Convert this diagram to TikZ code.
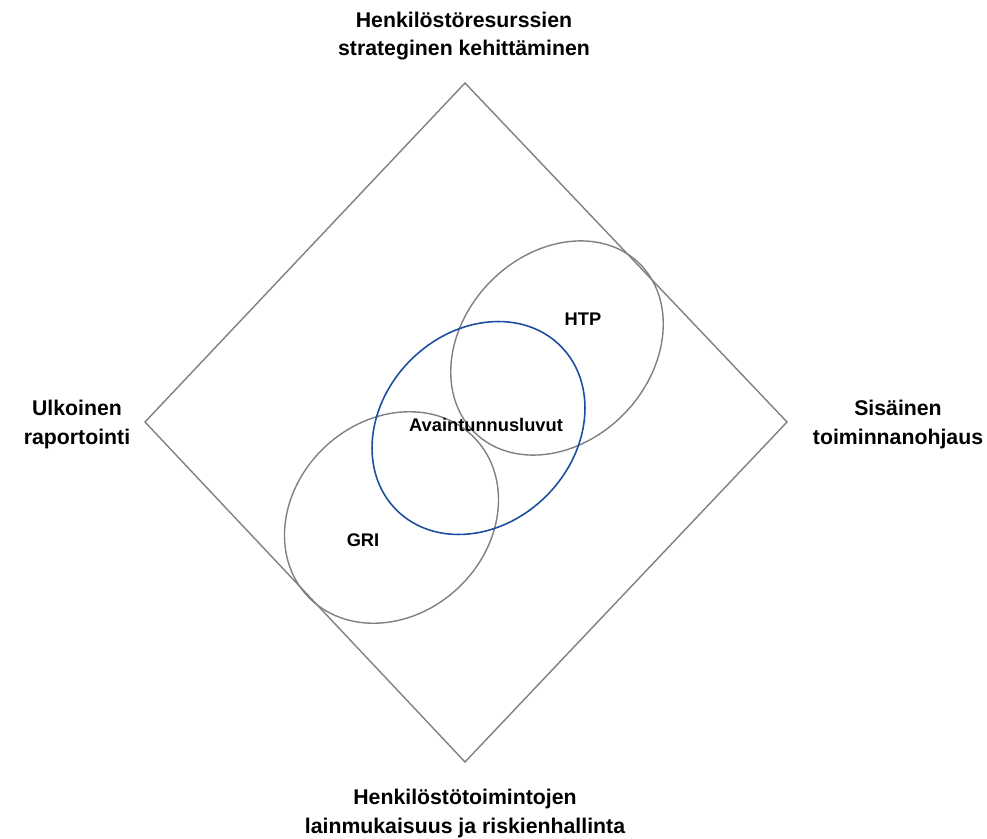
\documentclass[tikz,border=0pt]{standalone}
\usepackage{fontspec}
\setmainfont{Liberation Sans}
\definecolor{avainblue}{RGB}{28,78,160}
\definecolor{framegray}{RGB}{128,128,128}
\tikzset{
    corner/.style={align=center, font=\fontsize{12.1}{16}\selectfont\bfseries},
    inner/.style={font=\fontsize{10.4}{12}\selectfont\bfseries}
}
\begin{document}
\begin{tikzpicture}
        \useasboundingbox (0, 0) rectangle (19.74, 16.76);
        \draw[framegray, line width=0.8pt] (9.3, 15.1) -- (15.74, 8.32) -- (9.3, 1.52) -- (2.9, 8.32) -- cycle;

        \draw[framegray, line width=0.8pt, rotate around={46:(11.14, 9.8)}] (11.14, 9.8) ellipse (2.36 and 1.88);
        \draw[framegray, line width=0.8pt, rotate around={43:(7.83, 6.41)}] (7.83, 6.41) ellipse (2.3 and 1.94);
        \draw[avainblue, line width=0.9pt, rotate around={45:(9.57, 8.2)}] (9.57, 8.2) ellipse (2.32 and 1.92);

        \node[corner] (strateginen) at (9.28, 16.04) {Henkilöstöresurssien\\strateginen kehittäminen};
        \node[corner] (ulkoinen) at (1.54, 8.27) {Ulkoinen\\raportointi};
        \node[corner] (sisainen) at (17.96, 8.27) {Sisäinen\\toiminnanohjaus};
        \node[corner] (lainmukaisuus) at (9.3, 0.49) {Henkilöstötoimintojen\\lainmukaisuus ja riskienhallinta};

        \node[inner] (avain) at (9.72, 8.26) {Avaintunnusluvut};
        \node[inner] (htp) at (11.66, 10.38) {HTP};
        \node[inner] (gri) at (7.26, 5.96) {GRI};
    \end{tikzpicture}
\end{document}
